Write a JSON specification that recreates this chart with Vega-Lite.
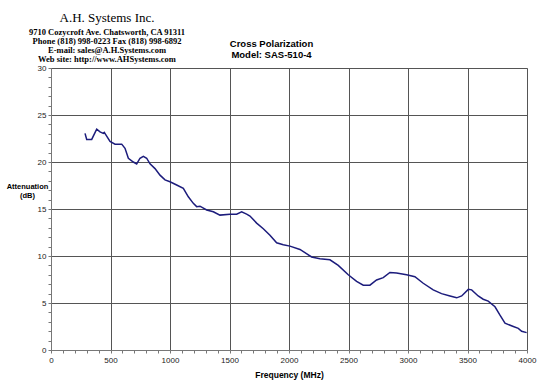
{
  "$schema": "https://vega.github.io/schema/vega-lite/v6.json",
  "width": 476,
  "height": 282,
  "autosize": "none",
  "padding": {"left": 51, "top": 68, "right": 13, "bottom": 34},
  "background": "white",
  "config": {
    "view": {"stroke": "#c0c0c0"},
    "font": "Liberation Sans"
  },
  "title": {
    "text": "A.H. Systems Inc.",
    "subtitle": ["9710 Cozycroft Ave. Chatsworth, CA 91311", "Phone (818) 998-0223 Fax (818) 998-6892", "E-mail: sales@A.H.Systems.com", "Web site: http://www.AHSystems.com"],
    "anchor": "middle",
    "frame": "group",
    "dx": -182,
    "offset": -26,
    "font": "Liberation Serif",
    "fontSize": 13,
    "fontWeight": "normal",
    "color": "#000",
    "subtitleFont": "Liberation Serif",
    "subtitleFontSize": 8.5,
    "subtitleFontWeight": "bold",
    "subtitleColor": "#000",
    "subtitlePadding": 3,
    "subtitleLineHeight": 9.3
  },
  "data": {
    "values": [
      {"f": 286, "dB": 23.05}, {"f": 300, "dB": 22.4}, {"f": 342, "dB": 22.4}, {"f": 384, "dB": 23.5},
      {"f": 412, "dB": 23.2}, {"f": 440, "dB": 23.05}, {"f": 448, "dB": 23.15}, {"f": 496, "dB": 22.2},
      {"f": 538, "dB": 21.9}, {"f": 594, "dB": 21.9}, {"f": 622, "dB": 21.45}, {"f": 650, "dB": 20.4},
      {"f": 692, "dB": 20.0}, {"f": 720, "dB": 19.8}, {"f": 748, "dB": 20.4}, {"f": 776, "dB": 20.6},
      {"f": 804, "dB": 20.4}, {"f": 832, "dB": 19.8}, {"f": 874, "dB": 19.3}, {"f": 916, "dB": 18.6},
      {"f": 958, "dB": 18.1}, {"f": 1000, "dB": 17.9}, {"f": 1056, "dB": 17.55}, {"f": 1112, "dB": 17.2},
      {"f": 1154, "dB": 16.3}, {"f": 1196, "dB": 15.6}, {"f": 1224, "dB": 15.25}, {"f": 1252, "dB": 15.3},
      {"f": 1308, "dB": 14.9}, {"f": 1364, "dB": 14.7}, {"f": 1420, "dB": 14.35}, {"f": 1504, "dB": 14.45},
      {"f": 1560, "dB": 14.45}, {"f": 1602, "dB": 14.7}, {"f": 1644, "dB": 14.45}, {"f": 1672, "dB": 14.25},
      {"f": 1728, "dB": 13.5}, {"f": 1784, "dB": 12.9}, {"f": 1840, "dB": 12.2}, {"f": 1896, "dB": 11.4},
      {"f": 1952, "dB": 11.2}, {"f": 2008, "dB": 11.05}, {"f": 2092, "dB": 10.7}, {"f": 2190, "dB": 9.9},
      {"f": 2260, "dB": 9.7}, {"f": 2344, "dB": 9.6}, {"f": 2414, "dB": 9.0}, {"f": 2498, "dB": 8.0},
      {"f": 2568, "dB": 7.3}, {"f": 2624, "dB": 6.9}, {"f": 2680, "dB": 6.9}, {"f": 2736, "dB": 7.45},
      {"f": 2792, "dB": 7.7}, {"f": 2848, "dB": 8.25}, {"f": 2904, "dB": 8.2}, {"f": 2988, "dB": 8.0},
      {"f": 3058, "dB": 7.8}, {"f": 3128, "dB": 7.1}, {"f": 3212, "dB": 6.4}, {"f": 3282, "dB": 6.0},
      {"f": 3353, "dB": 5.75}, {"f": 3409, "dB": 5.55}, {"f": 3451, "dB": 5.75}, {"f": 3507, "dB": 6.45},
      {"f": 3535, "dB": 6.4}, {"f": 3590, "dB": 5.75}, {"f": 3632, "dB": 5.4}, {"f": 3674, "dB": 5.2},
      {"f": 3731, "dB": 4.6}, {"f": 3773, "dB": 3.7}, {"f": 3815, "dB": 2.85}, {"f": 3885, "dB": 2.5},
      {"f": 3927, "dB": 2.3}, {"f": 3955, "dB": 2.0}, {"f": 3997, "dB": 1.85}
    ]
  },
  "resolve": {"axis": {"x": "independent", "y": "independent"}},
  "layer": [
    {
      "mark": {"type": "line", "opacity": 0},
      "encoding": {
        "x": {
          "field": "f", "type": "quantitative",
          "scale": {"domain": [0, 4000], "nice": false},
          "axis": {
            "orient": "top", "values": [0, 500, 1000, 1500, 2000, 2500, 3000, 3500, 4000],
            "grid": true, "gridColor": "#555", "gridWidth": 1, "gridOpacity": 1,
            "labels": false, "ticks": false, "domain": false,
            "title": ["Cross Polarization", "Model: SAS-510-4"],
            "titleFont": "Liberation Sans", "titleFontSize": 9.5, "titleFontWeight": "bold", "titleColor": "#000",
            "titleX": 220, "titleY": -30, "titleAlign": "center", "titleBaseline": "top", "titleLineHeight": 11.5
          }
        },
        "y": {
          "field": "dB", "type": "quantitative",
          "scale": {"domain": [0, 30], "nice": false},
          "axis": {
            "orient": "right", "values": [5, 10, 15, 20, 25, 30],
            "grid": true, "gridColor": "#555", "gridWidth": 1, "gridOpacity": 1,
            "labels": false, "ticks": false, "domain": false, "title": null
          }
        }
      }
    },
    {
      "mark": {"type": "line", "color": "#1c1c7c", "strokeWidth": 1.5},
      "encoding": {
        "x": {
          "field": "f", "type": "quantitative",
          "scale": {"domain": [0, 4000], "nice": false},
          "axis": {
            "orient": "bottom",
            "values": [0,100,200,300,400,500,600,700,800,900,1000,1100,1200,1300,1400,1500,1600,1700,1800,1900,2000,2100,2200,2300,2400,2500,2600,2700,2800,2900,3000,3100,3200,3300,3400,3500,3600,3700,3800,3900,4000],
            "format": "d",
            "labelExpr": "datum.value % 500 == 0 ? datum.label : ''",
            "labelOverlap": false, "labelFlush": false,
            "grid": false, "tickSize": 3, "tickColor": "#777", "domainColor": "#777",
            "labelFont": "Liberation Sans", "labelFontSize": 8, "labelColor": "#222", "labelPadding": 3,
            "title": "Frequency (MHz)", "titleFont": "Liberation Sans", "titleFontSize": 8.5,
            "titleFontWeight": "bold", "titleColor": "#000", "titlePadding": 6
          }
        },
        "y": {
          "field": "dB", "type": "quantitative",
          "scale": {"domain": [0, 30], "nice": false},
          "axis": {
            "orient": "left",
            "values": [0,1,2,3,4,5,6,7,8,9,10,11,12,13,14,15,16,17,18,19,20,21,22,23,24,25,26,27,28,29,30],
            "labelExpr": "datum.value % 5 == 0 ? datum.label : ''",
            "labelOverlap": false, "labelFlush": false,
            "grid": false, "tickSize": 3, "tickColor": "#777", "domainColor": "#777",
            "labelFont": "Liberation Sans", "labelFontSize": 8, "labelColor": "#222", "labelPadding": 2,
            "title": ["Attenuation", "(dB)"], "titleAngle": 0, "titleX": -24, "titleY": 118,
            "titleAlign": "center", "titleBaseline": "middle",
            "titleFont": "Liberation Sans", "titleFontSize": 7.5, "titleFontWeight": "bold", "titleColor": "#000",
            "titleLineHeight": 9.5
          }
        }
      }
    }
  ]
}
